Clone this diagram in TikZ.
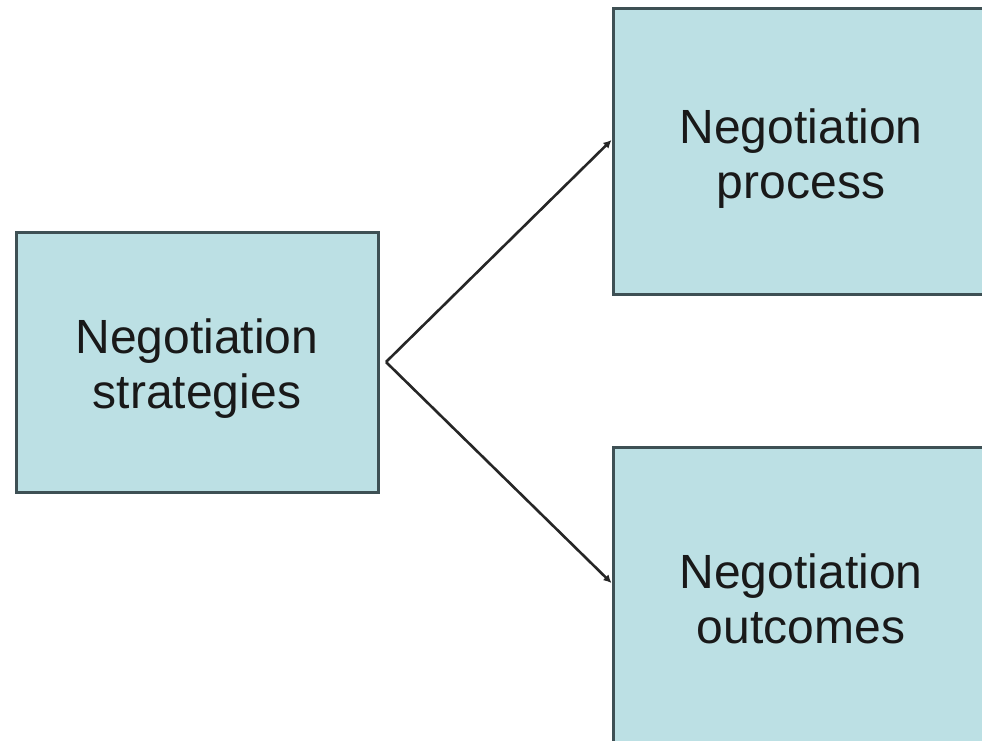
\documentclass[tikz,border=0pt]{standalone}
\usepackage{fontspec}
\setmainfont{Liberation Sans}
\usepackage{tikz}
\usetikzlibrary{arrows.meta}
\definecolor{boxfill}{RGB}{188,224,228}
\definecolor{boxline}{RGB}{62,80,84}
\tikzset{
  box/.style={draw=boxline, line width=3pt, fill=boxfill, inner sep=0pt},
  txt/.style={align=center, inner sep=0pt, text=black!90,
    font=\fontsize{48}{55}\selectfont},
  link/.style={line width=2.6pt, black!85, -{Latex[length=8pt,width=8pt]}}
}
\begin{document}
\begin{tikzpicture}[x=1pt,y=-1pt]
\useasboundingbox (0,0) rectangle (982,740);
\clip (0,0) rectangle (982,740);
\fill[white] (0,0) rectangle (982,740);
	\node[box, minimum width=362pt, minimum height=260pt] (strat) at (197,362) {};
	\node[box, minimum width=376pt, minimum height=286pt] (proc) at (801,151) {};
	\node[box, minimum width=376pt, minimum height=313pt] (outc) at (801,603.5) {};
	\node[txt] (strattxt) at (197,369.5) {\strut Negotiation\\strategies\strut};
	\node[txt] (proctxt) at (801,159.5) {\strut Negotiation\\process\strut};
	\node[txt] (outctxt) at (801,604.5) {\strut Negotiation\\outcomes\strut};
	\coordinate (fork) at (386,362);

	\draw[link] (fork) -- ([yshift=11pt]proc.west);
	\draw[link] (fork) -- ([yshift=20.5pt]outc.west);
\end{tikzpicture}
\end{document}
